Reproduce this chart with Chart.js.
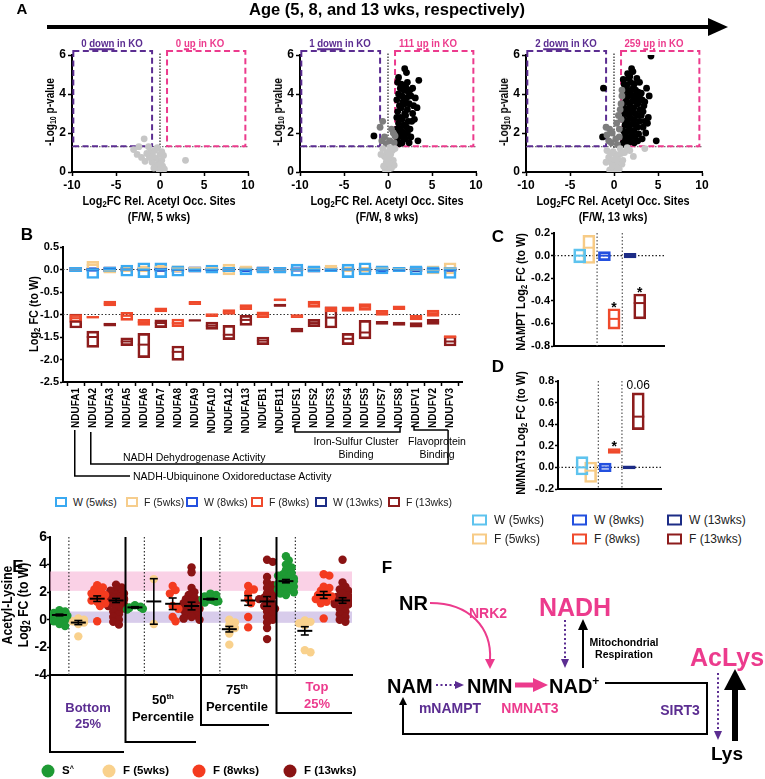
<!DOCTYPE html>
<html><head><meta charset="utf-8">
<script src="https://cdn.jsdelivr.net/npm/chart.js@4.4.1/dist/chart.umd.min.js"></script>
<style>
body{margin:0;width:765px;height:779px;position:relative;background:#fff;font-family:"Liberation Sans",Arial,sans-serif;overflow:hidden}
canvas{position:absolute}
.t{position:absolute;white-space:nowrap;color:#000;line-height:1}
.c{transform:translate(-50%,-50%)}
.l{transform:translate(0,-50%)}
.r{transform:translate(-50%,-50%) rotate(-90deg)}
.cn{transform:translate(-50%,-50%) scaleX(0.84);font-weight:bold}
.rn{transform:translate(-50%,-50%) rotate(-90deg) scaleX(0.84);font-weight:bold}
sub{font-size:70%;vertical-align:-0.25em;line-height:0}
sup{font-size:62%;vertical-align:0.5em;line-height:0}
.box{position:absolute;box-sizing:border-box;border:2px solid;transform:translate(0,-50%)}
.dot{position:absolute;border-radius:50%;transform:translate(-50%,-50%)}
</style></head><body>
<script>
const PURPLE = '#5B2D91', PINK = '#EC3B8D';

// ---- panel A: volcano points [log2FC, -log10 p]
const v5Gray = [[-3.0,1.15],[-2.6,0.9],[-1.8,1.7],[-1.3,1.3],[-1.0,1.05],[-2.1,0.75],[-1.7,0.55],[-0.6,1.1],[-0.4,0.7],[-0.2,0.45],[0.0,0.9],[0.2,0.6],[0.3,0.3],[-0.5,0.3],[-0.9,0.5],[-1.2,0.75],[0.1,0.2],[-0.1,0.1],[0.4,0.85],[-0.3,1.25],[2.9,0.6],[0.5,0.15],[-0.7,0.2],[0.0,0.4],[-1.5,0.95],[0.2,1.05],[-2.4,1.3],[-0.8,0.8]];
const v8Gray = [[-0.3,0.1],[0.0,0.2],[0.2,0.4],[-0.2,0.5],[0.1,0.7],[-0.4,0.8],[0.3,0.9],[-0.1,1.0],[0.5,1.1],[-0.6,1.2],[0.0,0.05],[0.6,0.6],[0.8,1.2],[-0.5,0.3],[0.4,0.2],[-0.8,0.9],[0.2,1.25],[-0.2,0.75],[0.7,0.35],[0.1,0.45]];
const v8Mid = [[-0.6,2.6],[-0.9,2.3],[-0.4,1.8],[0.4,2.2],[0.2,1.6],[0.7,1.5],[-0.2,1.45],[0.6,2.0],[0.8,1.85],[-0.7,1.6]];
const v8Down = [[-1.6,1.85]];
const v8Up = [[1.1,1.6],[1.3,1.9],[1.0,2.2],[1.2,2.5],[1.4,2.8],[1.1,3.1],[1.3,3.4],[1.0,3.7],[1.2,4.0],[1.4,4.3],[1.1,4.6],[1.2,4.85],
  [1.6,1.5],[1.7,1.8],[1.5,2.1],[1.8,2.4],[1.6,2.7],[1.9,3.0],[1.5,3.3],[1.7,3.6],[1.6,3.9],[1.8,4.2],[1.5,4.5],
  [2.0,1.7],[2.2,2.0],[2.1,2.3],[2.3,2.6],[2.0,2.9],[2.2,3.2],[2.4,3.5],[2.1,3.8],[2.3,4.1],[2.0,4.4],
  [1.9,5.3],[2.1,5.1],[2.5,4.2],[2.6,3.9],[2.7,2.6],[2.9,3.4],[2.8,3.0],[2.5,2.2],[2.6,1.8],[3.0,2.7],[3.1,3.8],[3.3,3.3],[3.5,4.7],[3.4,1.6],[2.4,1.5],[1.3,1.45],[2.8,4.3],[1.9,3.5],[1.4,2.2],[2.2,4.6],[1.0,2.8],[1.7,2.0]];
const v13Gray = [[-0.5,0.1],[0.0,0.2],[0.3,0.35],[-0.3,0.5],[0.5,0.6],[-0.6,0.75],[0.2,0.9],[-0.1,1.05],[0.7,1.2],[-0.8,1.1],[0.9,0.4],[0.1,0.05],[-0.2,0.3],[0.4,0.8],[1.2,1.0],[1.5,1.25],[2.2,0.8],[3.5,1.2],[-0.4,0.95],[0.6,0.15],[1.0,0.6],[-0.9,0.5],[0.8,0.95],[0.0,0.65],[1.8,1.1]];
const v13Mid = [[-0.5,2.2],[-0.8,1.9],[-0.2,2.0],[0.3,2.5],[0.5,2.9],[0.7,3.2],[0.8,3.5],[0.2,1.7],[0.6,2.2],[-0.3,1.5],[0.9,4.2],[0.4,1.4],[-0.6,1.6],[0.8,2.7],[0.9,3.9],[0.6,1.8],[-0.9,2.3]];
const v13Down = [[-1.2,4.3],[-1.3,1.8]];
const v13Up = [[1.05,1.5],[1.2,1.8],[1.1,2.1],[1.25,2.4],[1.05,2.7],[1.2,3.0],[1.1,3.3],[1.3,3.6],[1.05,3.9],[1.2,4.2],[1.15,4.5],[1.05,4.75],
  [1.5,1.45],[1.6,1.75],[1.45,2.05],[1.65,2.35],[1.5,2.65],[1.6,2.95],[1.45,3.25],[1.7,3.55],[1.5,3.85],[1.6,4.15],[1.45,4.45],[1.65,4.8],[1.55,5.05],
  [1.9,1.55],[2.0,1.85],[1.85,2.15],[2.05,2.45],[1.9,2.75],[2.0,3.05],[1.85,3.35],[2.1,3.65],[1.95,3.95],[2.05,4.25],[1.9,4.6],[2.0,5.3],[2.15,5.15],[1.8,4.9],
  [2.3,1.5],[2.4,1.8],[2.25,2.1],[2.45,2.4],[2.3,2.7],[2.4,3.0],[2.25,3.3],[2.5,3.6],[2.35,3.9],[2.45,4.2],[2.3,4.5],[2.6,4.8],
  [2.7,1.6],[2.8,1.95],[2.65,2.3],[2.9,2.6],[2.75,2.9],[2.95,3.2],[2.7,3.5],[2.85,3.8],[2.75,4.1],[3.0,4.0],
  [3.2,1.7],[3.3,2.3],[3.1,2.9],[3.4,3.4],[3.2,3.7],[3.5,3.6],[3.3,3.1],[3.6,2.0],[3.5,2.6],[3.1,4.05],
  [4.2,5.95],[4.8,1.6],[3.9,2.8],[3.8,2.5],[4.0,3.9],[3.7,4.3],[2.9,4.6],[1.0,1.4],[1.35,1.5]];

// ---- panel B: complex I subunits, log2 FC (to W)
const cats = ['NDUFA1','NDUFA2','NDUFA3','NDUFA5','NDUFA6','NDUFA7','NDUFA8','NDUFA9','NDUFA10','NDUFA12','NDUFA13','NDUFB1','NDUFB11','NDUFS1','NDUFS2','NDUFS3','NDUFS4','NDUFS5','NDUFS7','NDUFS8','NDUFV1','NDUFV2','NDUFV3'];
const wMean = [0,0,0,0,0,0,0,0,0,0,0,0,0,0,0,0,0,0,0,0,0,0,0];
const w5Min = [-0.05,-0.2,-0.05,-0.15,-0.18,-0.18,-0.15,-0.05,-0.08,-0.05,-0.12,-0.08,-0.08,-0.15,-0.05,-0.05,-0.18,-0.12,-0.1,-0.05,-0.12,-0.08,-0.2];
const w5Max = [0.05,0.02,0.05,0.1,0.15,0.15,0.08,0.05,0.1,0.05,0.05,0.05,0.05,0.12,0.08,0.05,0.12,0.15,0.08,0.05,0.08,0.06,0.05];
const f5Min = [-0.03,-0.02,-0.08,-0.05,-0.05,0.02,-0.05,0.0,0.0,-0.12,-0.02,-0.03,-0.03,-0.03,-0.03,-0.02,-0.05,-0.05,-0.02,-0.03,-0.03,-0.1,-0.1];
const f5Max = [0.03,0.18,0.03,0.05,0.08,0.1,0.08,0.05,0.05,0.12,0.08,0.04,0.03,0.03,0.05,0.1,0.05,0.05,0.05,0.05,0.03,0.08,0.15];
const f5Mean = [0.0,0.1,-0.02,0.0,0.03,0.06,0.02,0.03,0.03,0.0,0.03,0.0,0.0,0.0,0.01,0.04,0.0,0.0,0.02,0.01,0.0,-0.01,0.02];
const w8Min = [-0.05,-0.04,-0.05,-0.04,-0.04,-0.04,-0.05,-0.05,-0.04,-0.04,-0.05,-0.05,-0.04,-0.04,-0.04,-0.05,-0.04,-0.04,-0.05,-0.04,-0.04,-0.04,-0.05];
const w8Max = [0.05,0.04,0.05,0.04,0.04,0.04,0.05,0.05,0.04,0.04,0.05,0.05,0.04,0.04,0.04,0.05,0.04,0.04,0.05,0.04,0.04,0.04,0.05];
const f8Min = [-1.17,-1.08,-0.81,-1.13,-1.24,-0.94,-1.27,-0.78,-1.05,-1.0,-0.89,-1.07,-0.70,-1.07,-0.84,-0.94,-0.93,-0.91,-1.02,-0.89,-1.12,-1.04,-1.52];
const f8Max = [-1.0,-1.04,-0.70,-0.95,-1.11,-0.85,-1.10,-0.71,-0.98,-0.89,-0.78,-0.94,-0.65,-1.0,-0.70,-0.83,-0.83,-0.76,-0.91,-0.81,-1.02,-0.90,-1.47];
const f8Mean = [-1.08,-1.06,-0.76,-1.03,-1.17,-0.89,-1.19,-0.74,-1.02,-0.94,-0.83,-1.0,-0.67,-1.03,-0.76,-0.89,-0.88,-0.83,-0.97,-0.85,-1.07,-0.97,-1.50];
const w13Min = [-0.05,-0.03,-0.06,-0.04,-0.03,-0.04,-0.06,-0.06,-0.03,-0.03,-0.04,-0.06,-0.05,-0.03,-0.06,-0.05,-0.03,-0.05,-0.05,-0.04,-0.05,-0.03,-0.04];
const w13Max = [0.05,0.03,0.06,0.04,0.03,0.04,0.06,0.06,0.03,0.03,0.04,0.06,0.05,0.03,0.06,0.05,0.03,0.05,0.05,0.04,0.05,0.03,0.04];
const f13Min = [-1.30,-1.73,-1.26,-1.69,-1.96,-1.29,-2.02,-1.15,-1.33,-1.56,-1.24,-1.67,-0.82,-1.39,-1.27,-1.30,-1.67,-1.54,-1.22,-1.24,-1.28,-1.22,-1.70];
const f13Max = [-0.99,-1.37,-1.19,-1.52,-1.42,-1.12,-1.70,-1.12,-1.17,-1.24,-1.02,-1.50,-0.77,-1.30,-1.11,-0.83,-1.42,-1.13,-1.15,-1.17,-1.18,-1.11,-1.48];
const f13Mean = [-1.16,-1.50,-1.22,-1.60,-1.67,-1.19,-1.83,-1.13,-1.25,-1.45,-1.12,-1.58,-0.80,-1.35,-1.19,-1.07,-1.54,-1.40,-1.19,-1.20,-1.23,-1.16,-1.60];

// ---- panels C, D: groups W5, F5, W8, F8, W13, F13
const cdSlots = [0.8, 1.8, 3.5, 4.55, 6.3, 7.35];
const namptMin = [-0.065,-0.07,-0.045,-0.65,-0.02,-0.56];
const namptMax = [0.06,0.18,0.035,-0.47,0.02,-0.34];
const namptMean = [0,0.07,0,-0.56,0,-0.42];
const nmnatMin = [-0.07,-0.14,-0.04,0.13,-0.015,0.35];
const nmnatMax = [0.1,0.05,0.04,0.175,0.015,0.69];
const nmnatMean = [0,-0.03,0,0.15,0,0.47];

// ---- panel E: acetyl-lysine log2 FC per quartile (Bottom, 50th, 75th, Top)
const eGroupNames = ['Bottom 25%','50th Percentile','75th Percentile','Top 25%'];
const eS = [[0.7,0.6,0.5,0.4,0.35,0.3,0.2,0.1,0.0,-0.1,-0.3,-0.45],
  [1.05,0.95,0.9,0.85,0.8,0.75,0.9],
  [1.9,1.8,1.7,1.65,1.6,1.5,1.45,1.4,1.3,1.25,1.55,1.35],
  [4.6,4.3,4.0,3.8,3.6,3.4,3.3,3.2,3.1,3.0,2.9,2.8,2.75,2.7,2.6,2.5,2.5,2.4,2.3,2.2,2.2,2.1,2.0,1.9,1.8,2.65,2.95]];
const eF5 = [[0.1,0.0,-0.1,-0.2,-0.3,-1.2],[2.95,-0.3],[0.0,-0.2,-0.4,-0.6,-1.0,-1.8],[-0.05,-0.15,-0.25,-0.4,-2.2,-2.35]];
const eF8 = [[2.5,2.35,2.2,2.0,1.9,1.8,1.65,1.5,1.4,1.3,1.2,1.0,-0.1],
  [2.45,2.15,1.9,1.0,0.8,0.2,-0.1],
  [2.45,2.2,1.95,1.5,1.2,0.2,-0.55],
  [3.3,3.2,2.4,2.3,2.1,1.95,1.8,1.7,1.6,1.5,1.3,1.2,0.1]];
const eF13 = [[2.55,2.35,2.2,2.1,2.0,1.9,1.8,1.7,1.6,1.55,1.5,1.45,1.4,1.3,1.2,1.1,1.0,0.9,0.8,0.6,0.4,0.2,0.0,-0.15,-0.35,1.65,1.25],
  [3.8,3.45,2.3,2.0,1.8,1.6,1.5,1.3,1.2,1.0,0.9,0.8,0.7,0.6,0.5,0.4,0.3,0.2,0.1,0.0,0.1,1.4],
  [4.35,4.2,3.1,2.5,2.3,2.1,1.9,1.7,1.5,1.3,1.2,1.0,0.8,0.6,0.4,0.2,0.0,-0.2,-0.6,-1.4,1.6,0.9,2.7],
  [4.35,2.7,2.4,2.1,1.9,1.75,1.6,1.5,1.4,1.3,1.2,1.1,1.0,0.8,0.6,0.4,0.2,0.0,-0.15,1.65,1.15,2.2]];
const eMean = [[0.35,0.9,1.5,2.8],[-0.2,1.33,-0.68,-0.8],[1.53,1.16,1.4,1.8],[1.4,1.0,1.33,1.4]];
const eSem = [[0.06,0.05,0.05,0.12],[0.15,1.65,0.2,0.3],[0.2,0.42,0.35,0.25],[0.15,0.28,0.35,0.2]];

// ---------------------------------------------------------------
Chart.defaults.font.family = '"Liberation Sans", Arial, sans-serif';
Chart.defaults.color = '#000';

function mkCanvas(l, t, w, h) {
  const c = document.createElement('canvas');
  c.width = w; c.height = h;
  c.style.left = l + 'px'; c.style.top = t + 'px';
  c.style.width = w + 'px'; c.style.height = h + 'px';
  document.body.appendChild(c);
  return c;
}
function lab(html, x, y, css, cls) {
  const d = document.createElement('div');
  d.className = 't ' + (cls || 'c');
  d.innerHTML = html;
  d.style.left = x + 'px'; d.style.top = y + 'px';
  if (css) d.style.cssText += css;
  document.body.appendChild(d);
  return d;
}
function base(extra) {
  return Object.assign({responsive: false, animation: false, devicePixelRatio: 1, events: [],
    plugins: {legend: {display: false}, tooltip: {enabled: false}}}, extra);
}
function yAxis(min, max, step, w, size, fmt, tick, pad) {
  return {min: min, max: max,
    ticks: {stepSize: step, color: '#000', font: {weight: 'bold', size: size}, padding: pad, callback: fmt},
    grid: {drawOnChartArea: false, color: '#000', tickLength: tick, tickWidth: 1.5},
    border: {color: '#000', width: 2},
    afterFit: s => { s.width = w; }};
}
function line(ctx, x1, y1, x2, y2) { ctx.beginPath(); ctx.moveTo(x1, y1); ctx.lineTo(x2, y2); ctx.stroke(); }
const xy = arr => arr.map(p => ({x: p[0], y: p[1]}));

// ---------------- A ----------------
const volcanoDeco = {
  id: 'vdeco',
  beforeDatasetsDraw(chart) {
    const {ctx, scales: {x, y}} = chart;
    ctx.save();
    ctx.lineWidth = 1.2;
    ctx.setLineDash([1.5, 1.5]);
    ctx.strokeStyle = '#777';
    line(ctx, x.getPixelForValue(-10), y.getPixelForValue(1.3), x.getPixelForValue(10), y.getPixelForValue(1.3));
    ctx.strokeStyle = '#222';
    line(ctx, x.getPixelForValue(0), y.getPixelForValue(0), x.getPixelForValue(0), y.getPixelForValue(6.15));
    ctx.lineWidth = 2;
    ctx.setLineDash([6, 3.5]);
    const top = y.getPixelForValue(6.2), bot = y.getPixelForValue(1.32);
    ctx.strokeStyle = PURPLE;
    ctx.strokeRect(x.getPixelForValue(-9.85), top, x.getPixelForValue(-0.9) - x.getPixelForValue(-9.85), bot - top);
    ctx.strokeStyle = PINK;
    ctx.strokeRect(x.getPixelForValue(0.8), top, x.getPixelForValue(9.7) - x.getPixelForValue(0.8), bot - top);
    ctx.restore();
  }
};
function volcano(ax, gray, mid, up, down) {
  const cv = mkCanvas(ax - 42, 45, 228, 150);
  new Chart(cv, {
    type: 'scatter',
    data: {datasets: [
      {data: xy(gray), backgroundColor: '#c6c6c6'},
      {data: xy(mid), backgroundColor: '#7d7d7d'},
      {data: xy(up), backgroundColor: '#000'},
      {data: xy(down), backgroundColor: '#000'}]},
    options: base({
      layout: {padding: {top: 10, right: 10}},
      elements: {point: {radius: 3.4, borderWidth: 0, hoverRadius: 3.4}},
      scales: {
        x: {min: -10, max: 10,
          ticks: {stepSize: 5, color: '#000', font: {weight: 'bold', size: 12}, padding: 2},
          grid: {drawOnChartArea: false, color: '#000', tickLength: 4, tickWidth: 1.5},
          border: {color: '#000', width: 2},
          afterFit: s => { s.height = 23; }},
        y: yAxis(0, 6, 2, 42, 12, undefined, 4, 2)
      }
    }),
    plugins: [volcanoDeco]
  });
}
const aAxes = [72, 300, 526];
volcano(aAxes[0], v5Gray, [], [], []);
volcano(aAxes[1], v8Gray, v8Mid, v8Up, v8Down);
volcano(aAxes[2], v13Gray, v13Mid, v13Up, v13Down);
const aCounts = [['0','0','5'], ['1','111','8'], ['2','259','13']];
aAxes.forEach((ax, k) => {
  const [dn, upN, wk] = aCounts[k];
  lab(dn + ' <u style="text-decoration-thickness:2px">down</u> in KO', ax + 40, 44, 'font-size:11.5px;color:' + PURPLE, 'cn');
  lab(upN + ' <u style="text-decoration-thickness:2px">up</u> in KO', ax + 128, 44, 'font-size:11.5px;color:' + PINK, 'cn');
  lab('-Log<sub>10</sub> p-value', ax - 22, 112, 'font-size:12px', 'rn');
  lab('Log<sub>2</sub>FC Rel. Acetyl Occ. Sites', ax + 87, 200, 'font-size:13px', 'cn');
  lab('(F/W, ' + wk + ' wks)', ax + 87, 216, 'font-size:13px', 'cn');
});

// ---------------- B ----------------
const bSeries = [
  {min: w5Min, max: w5Max, mean: wMean, color: '#39A9F1', fill: 'rgba(0,0,0,0)'},
  {min: f5Min, max: f5Max, mean: f5Mean, color: '#F6CD8C', fill: 'rgba(0,0,0,0)'},
  {min: w8Min, max: w8Max, mean: wMean, color: '#2350DF', fill: 'rgba(35,80,223,0.25)'},
  {min: f8Min, max: f8Max, mean: f8Mean, color: '#EF4A2C', fill: 'rgba(0,0,0,0)'},
  {min: w13Min, max: w13Max, mean: wMean, color: '#1C2C86', fill: 'rgba(28,44,134,0.55)'},
  {min: f13Min, max: f13Max, mean: f13Mean, color: '#8D1C1C', fill: 'rgba(0,0,0,0)'}
];
const bDeco = {
  id: 'bdeco',
  beforeDatasetsDraw(chart) {
    const {ctx, chartArea: a, scales: {y}} = chart;
    ctx.save();
    ctx.setLineDash([1.5, 2]); ctx.lineWidth = 1.2; ctx.strokeStyle = '#333';
    [0, -1].forEach(v => line(ctx, a.left, y.getPixelForValue(v), a.right, y.getPixelForValue(v)));
    ctx.restore();
  },
  afterDraw(chart) {
    const {ctx, scales: {x}} = chart;
    const T = 237, px = i => x.getPixelForValue(i);
    ctx.save();
    ctx.strokeStyle = '#000'; ctx.lineWidth = 1.5;
    ctx.beginPath();
    ctx.moveTo(px(0) - 1, 430 - T); ctx.lineTo(px(0) - 1, 476 - T); ctx.lineTo(130, 476 - T);
    ctx.moveTo(px(1) - 2, 432 - T); ctx.lineTo(px(1) - 2, 464 - T); ctx.lineTo(px(22) - 2, 464 - T); ctx.lineTo(px(22) - 2, 430 - T);
    ctx.moveTo(px(13) - 2, 427 - T); ctx.lineTo(px(13) - 2, 432 - T); ctx.lineTo(px(19) + 1, 432 - T); ctx.lineTo(px(19) + 1, 427 - T);
    ctx.moveTo(px(20) - 2, 426 - T); ctx.lineTo(px(20) - 2, 430 - T); ctx.lineTo(px(22) - 2, 430 - T);
    ctx.stroke();
    ctx.restore();
  }
};
const bDatasets = [];
bSeries.forEach(s => {
  bDatasets.push({type: 'bar', order: 2, grouped: false, barThickness: 12, borderWidth: 2, borderSkipped: false,
    borderColor: s.color, backgroundColor: s.fill,
    data: cats.map((c, i) => ({x: i, y: [s.min[i], s.max[i]]}))});
});
bSeries.forEach(s => {
  bDatasets.push({type: 'line', order: 1, showLine: false, pointStyle: 'line', pointRadius: 6, pointBorderWidth: 2,
    borderColor: s.color, pointBorderColor: s.color,
    data: cats.map((c, i) => ({x: i, y: s.mean[i]}))});
});
new Chart(mkCanvas(0, 237, 470, 245), {
  type: 'bar',
  data: {datasets: bDatasets},
  options: base({
    layout: {padding: {top: 10, right: 8}},
    scales: {
      x: {type: 'linear', min: -0.75, max: 22.7, offset: false,
        afterBuildTicks: s => { s.ticks = s.ticks.filter(t => Number.isInteger(t.value)); },
        ticks: {stepSize: 1, autoSkip: false, minRotation: 90, maxRotation: 90, color: '#000', padding: 2,
          font: {weight: 'bold', size: 10}, callback: v => cats[v]},
        grid: {drawOnChartArea: false, color: '#000', tickLength: 4, tickWidth: 1.5},
        border: {color: '#000', width: 2},
        afterFit: s => { s.height = 100; }},
      y: yAxis(-2.5, 0.5, 0.5, 63, 11, v => v.toFixed(1), 3, 1)
    }
  }),
  plugins: [bDeco]
});
lab('B', 27, 234, 'font-weight:bold;font-size:17px');
lab('Log<sub>2</sub> FC (to W)', 33, 314, 'font-size:13px', 'rn');
lab('NADH-Ubiquinone Oxidoreductase Activity', 133, 476, 'font-size:10.5px', 'l');
lab('NADH Dehydrogenase Activity', 123, 457, 'font-size:10.5px', 'l');
lab('Iron-Sulfur Cluster', 356, 441, 'font-size:10.5px');
lab('Binding', 356, 454, 'font-size:10.5px');
lab('Flavoprotein', 437, 441, 'font-size:10.5px');
lab('Binding', 437, 454, 'font-size:10.5px');
const bLegend = [['W (5wks)', '#39A9F1', 55], ['F (5wks)', '#F6CD8C', 126], ['W (8wks)', '#2350DF', 186], ['F (8wks)', '#EF4A2C', 251], ['W (13wks)', '#1C2C86', 315], ['F (13wks)', '#8D1C1C', 388]];
bLegend.forEach(([t, c, x]) => {
  const b = document.createElement('div');
  b.className = 'box';
  b.style.cssText += `left:${x}px;top:502px;width:12px;height:10px;border-color:${c}`;
  document.body.appendChild(b);
  lab(t, x + 18, 502, 'font-size:10.5px;color:#222', 'l');
});

// ---------------- C, D ----------------
const cdColors = ['#5EC3EE', '#F7CB86', '#2350DF', '#EF4A2C', '#1C2C86', '#8D1C1C'];
function cdChart(l, t, w, h, yw, padTop, ymin, ymax, mins, maxs, means, fills, notes) {
  const ds = [];
  cdSlots.forEach((p, i) => {
    ds.push({type: 'bar', order: 2, grouped: false, barThickness: 12, borderWidth: 2, borderSkipped: false,
      borderColor: cdColors[i], backgroundColor: fills[i], data: [{x: p, y: [mins[i], maxs[i]]}]});
    ds.push({type: 'line', order: 1, showLine: false, pointStyle: 'line', pointRadius: 6, pointBorderWidth: 2,
      pointBorderColor: cdColors[i], borderColor: cdColors[i], data: [{x: p, y: means[i]}]});
  });
  const deco = {
    id: 'cddeco',
    beforeDatasetsDraw(chart) {
      const {ctx, chartArea: a, scales: {x, y}} = chart;
      ctx.save();
      ctx.setLineDash([1.5, 2]); ctx.lineWidth = 1.2; ctx.strokeStyle = '#555';
      [2.7, 5.45].forEach(v => line(ctx, x.getPixelForValue(v), a.top, x.getPixelForValue(v), a.bottom));
      ctx.strokeStyle = '#222';
      line(ctx, a.left, y.getPixelForValue(0), a.right, y.getPixelForValue(0));
      ctx.restore();
    },
    afterDatasetsDraw(chart) {
      const {ctx, scales: {x, y}} = chart;
      ctx.save();
      ctx.fillStyle = '#000'; ctx.textAlign = 'center'; ctx.textBaseline = 'bottom';
      notes.forEach(([i, txt]) => {
        const px = x.getPixelForValue(cdSlots[i]), py = y.getPixelForValue(maxs[i]);
        if (txt === '*') { ctx.font = 'bold 14px "Liberation Sans", Arial'; ctx.fillText('*', px, py + 6); }
        else { ctx.font = '12px "Liberation Sans", Arial'; ctx.fillText(txt, px, py - 1); }
      });
      ctx.restore();
    }
  };
  new Chart(mkCanvas(l, t, w, h), {
    type: 'bar',
    data: {datasets: ds},
    options: base({
      layout: {padding: {top: padTop, right: 2}},
      scales: {
        x: {type: 'linear', min: 0, max: 8, ticks: {display: false},
          grid: {display: true, drawOnChartArea: false, drawTicks: false},
          border: {color: '#000', width: 2},
          afterFit: s => { s.height = 9; }},
        y: yAxis(ymin, ymax, 0.2, yw, 11, v => v.toFixed(1), 3, 1)
      }
    }),
    plugins: [deco]
  });
}
const clear = 'rgba(0,0,0,0)';
cdChart(500, 225, 172, 130, 54, 8, -0.8, 0.2, namptMin, namptMax, namptMean,
  [clear, clear, clear, clear, clear, clear], [[3, '*'], [5, '*']]);
cdChart(500, 372, 169, 126, 58, 9, -0.2, 0.8, nmnatMin, nmnatMax, nmnatMean,
  [clear, clear, clear, 'rgba(239,74,44,0.35)', '#1C2C86', clear], [[3, '*'], [5, '0.06']]);
lab('C', 498, 236, 'font-weight:bold;font-size:17px');
lab('D', 498, 366, 'font-weight:bold;font-size:17px');
lab('NAMPT Log<sub>2</sub> FC (to W)', 520, 292, 'font-size:13px', 'rn');
lab('NMNAT3 Log<sub>2</sub> FC (to W)', 520, 433, 'font-size:13px', 'rn');
const cdLegend = [['W (5wks)', 0, 472, 520], ['F (5wks)', 1, 472, 539], ['W (8wks)', 2, 572, 520], ['F (8wks)', 3, 572, 539], ['W (13wks)', 4, 667, 520], ['F (13wks)', 5, 667, 539]];
cdLegend.forEach(([t, i, x, y]) => {
  const b = document.createElement('div');
  b.className = 'box';
  b.style.cssText += `left:${x}px;top:${y}px;width:15px;height:11px;border-color:${cdColors[i]}`;
  document.body.appendChild(b);
  lab(t, x + 22, y, 'font-size:12px;color:#222', 'l');
});

// ---------------- E ----------------
const eColors = ['#1E9A34', '#F9D18C', '#F43B1F', '#8A1313'];
const eSeries = [eS, eF5, eF8, eF13];
// simple bee-swarm placement of the dots around each slot
function swarm(values, center) {
  const placed = [];
  const offs = [0, 0.15, -0.15, 0.3, -0.3, 0.42, -0.42];
  [...values].sort((a, b) => b - a).forEach(v => {
    let pick = null;
    for (const o of offs) {
      if (placed.every(p => Math.hypot((o - p.o) * 18.9, (v - p.v) * 13.8) >= 4.5)) { pick = o; break; }
    }
    if (pick === null) pick = offs[placed.length % offs.length];
    placed.push({o: pick, v: v});
  });
  return placed.map(p => ({x: center + p.o, y: p.v}));
}
const eDatasets = eSeries.map((ser, s) => ({
  data: ser.flatMap((vals, g) => swarm(vals, g * 4 + s)),
  backgroundColor: eColors[s]
}));
const eDeco = {
  id: 'edeco',
  beforeDatasetsDraw(chart) {
    const {ctx, chartArea: a, scales: {x, y}} = chart;
    ctx.save();
    ctx.fillStyle = 'rgba(246,178,214,0.6)';
    ctx.fillRect(a.left, y.getPixelForValue(3.5), a.right - a.left, y.getPixelForValue(2.1) - y.getPixelForValue(3.5));
    ctx.fillStyle = 'rgba(190,170,222,0.6)';
    ctx.fillRect(a.left, y.getPixelForValue(0.6), a.right - a.left, y.getPixelForValue(-0.22) - y.getPixelForValue(0.6));
    ctx.setLineDash([1.5, 2]); ctx.lineWidth = 1.2; ctx.strokeStyle = '#333';
    [0.5, 4.5, 8.5, 12.5].forEach(v => line(ctx, x.getPixelForValue(v), a.top, x.getPixelForValue(v), a.bottom));
    ctx.restore();
  },
  afterDatasetsDraw(chart) {
    const {ctx, scales: {x, y}} = chart;
    ctx.save();
    ctx.strokeStyle = '#000'; ctx.lineWidth = 1.6;
    for (let s = 0; s < 4; s++) for (let g = 0; g < 4; g++) {
      const px = x.getPixelForValue(g * 4 + s);
      const m = y.getPixelForValue(eMean[s][g]);
      const hi = y.getPixelForValue(eMean[s][g] + eSem[s][g]);
      const lo = y.getPixelForValue(eMean[s][g] - eSem[s][g]);
      line(ctx, px, hi, px, lo);
      line(ctx, px - 4, hi, px + 4, hi);
      line(ctx, px - 4, lo, px + 4, lo);
      ctx.lineWidth = 2;
      line(ctx, px - 7.5, m, px + 7.5, m);
      ctx.lineWidth = 1.6;
    }
    ctx.restore();
  },
  afterDraw(chart) {
    const {ctx, chartArea: a, scales: {x}} = chart;
    const T = 527;
    ctx.save();
    ctx.strokeStyle = '#000'; ctx.lineWidth = 2;
    const steps = [[-0.5, 752], [3.5, 742], [7.5, 725], [11.5, 713]];
    const ends = [124, 196, 269, a.right];
    steps.forEach(([v, yb], k) => {
      const px = x.getPixelForValue(v);
      ctx.beginPath();
      ctx.moveTo(px, k === 0 ? a.bottom : a.top);
      ctx.lineTo(px, yb - T);
      ctx.lineTo(ends[k], yb - T);
      ctx.stroke();
    });
    ctx.restore();
  }
};
new Chart(mkCanvas(0, 527, 360, 240), {
  type: 'scatter',
  data: {datasets: eDatasets},
  options: base({
    layout: {padding: {top: 10, right: 8}},
    elements: {point: {radius: 4.2, borderWidth: 0, hoverRadius: 4.2}},
    scales: {
      x: {min: -0.5, max: 15.5, ticks: {display: false},
        grid: {display: true, drawOnChartArea: false, drawTicks: false},
        border: {color: '#000', width: 2},
        afterFit: s => { s.height = 92; }},
      y: yAxis(-4, 6, 2, 50, 14, undefined, 3, 0)
    }
  }),
  plugins: [eDeco]
});
lab('E', 18, 566, 'font-weight:bold;font-size:17px');
lab('Acetyl-Lysine', 7, 605, 'font-size:14.5px', 'rn');
lab('Log<sub>2</sub> FC (to W)', 23, 605, 'font-size:14.5px', 'rn');
const eLab = 'font-weight:bold;font-size:13px;';
lab('Bottom', 88, 707, eLab + 'color:' + PURPLE);
lab('25%', 88, 723, eLab + 'color:' + PURPLE);
lab('50<sup>th</sup>', 163, 699, eLab);
lab('Percentile', 163, 716, eLab);
lab('75<sup>th</sup>', 237, 689, eLab);
lab('Percentile', 237, 706, eLab);
lab('Top', 317, 686, eLab + 'color:' + PINK);
lab('25%', 317, 703, eLab + 'color:' + PINK);
const eLegend = [['S<sup>^</sup>', 0, 48], ['F (5wks)', 1, 109], ['F (8wks)', 2, 199], ['F (13wks)', 3, 290]];
eLegend.forEach(([t, i, x]) => {
  const d = document.createElement('div');
  d.className = 'dot';
  d.style.cssText += `left:${x}px;top:771px;width:13px;height:13px;background:${eColors[i]}`;
  document.body.appendChild(d);
  lab(t, x + 14, 771, 'font-weight:bold;font-size:11.5px', 'l');
});

// ---------------- header arrow + panel F diagram ----------------
document.body.insertAdjacentHTML('beforeend', `
<svg width="765" height="779" style="position:absolute;left:0;top:0" font-family="Liberation Sans, Arial, sans-serif" font-weight="bold">
  <line x1="47" y1="27" x2="712" y2="27" stroke="#000" stroke-width="4"/>
  <polygon points="708,18 728,27 708,36" fill="#000"/>
  <text x="387" y="15" text-anchor="middle" font-size="16.5">Age (5, 8, and 13 wks, respectively)</text>
  <text x="22" y="14" text-anchor="middle" font-size="15">A</text>

  <text x="387" y="573" text-anchor="middle" font-size="17">F</text>
  <text x="399" y="610" font-size="20">NR</text>
  <path d="M430,603 C470,603 492,628 490,660" fill="none" stroke="${PINK}" stroke-width="2"/>
  <polygon points="485,659 495,659 490,669" fill="${PINK}"/>
  <text x="488" y="618" text-anchor="middle" font-size="14" fill="${PINK}">NRK2</text>
  <text x="575" y="616" text-anchor="middle" font-size="25" fill="${PINK}">NADH</text>
  <line x1="565" y1="620" x2="565" y2="660" stroke="${PURPLE}" stroke-width="2" stroke-dasharray="2,2.5"/>
  <polygon points="561,659 569,659 565,668" fill="${PURPLE}"/>
  <line x1="583" y1="668" x2="583" y2="628" stroke="#000" stroke-width="2"/>
  <polygon points="578,630 588,630 583,619" fill="#000"/>
  <text x="624" y="646" text-anchor="middle" font-size="10.5">Mitochondrial</text>
  <text x="624" y="658" text-anchor="middle" font-size="10.5">Respiration</text>
  <text x="727" y="666" text-anchor="middle" font-size="25" fill="${PINK}">AcLys</text>
  <text x="387" y="693" font-size="20">NAM</text>
  <line x1="436" y1="685" x2="456" y2="685" stroke="${PURPLE}" stroke-width="2" stroke-dasharray="2,2.5"/>
  <polygon points="455,681 464,685 455,689" fill="${PURPLE}"/>
  <text x="467" y="693" font-size="20">NMN</text>
  <line x1="515" y1="685" x2="535" y2="685" stroke="${PINK}" stroke-width="5"/>
  <polygon points="533,678 548,685 533,692" fill="${PINK}"/>
  <text x="549" y="693" font-size="20">NAD<tspan dy="-8" font-size="12">+</tspan></text>
  <polyline points="605,683 707,683 707,734 403,734 403,704" fill="none" stroke="#000" stroke-width="2"/>
  <polygon points="399,705 407,705 403,697" fill="#000"/>
  <text x="450" y="713" text-anchor="middle" font-size="14" fill="${PURPLE}">mNAMPT</text>
  <text x="530" y="713" text-anchor="middle" font-size="14" fill="${PINK}">NMNAT3</text>
  <text x="680" y="715" text-anchor="middle" font-size="14" fill="${PURPLE}">SIRT3</text>
  <line x1="718" y1="673" x2="718" y2="732" stroke="${PURPLE}" stroke-width="2" stroke-dasharray="2,2.5"/>
  <polygon points="714,731 722,731 718,740" fill="${PURPLE}"/>
  <line x1="735" y1="741" x2="735" y2="686" stroke="#000" stroke-width="6"/>
  <polygon points="724,690 746,690 735,669" fill="#000"/>
  <text x="727" y="760" text-anchor="middle" font-size="19">Lys</text>
</svg>`);
</script>
</body></html>
